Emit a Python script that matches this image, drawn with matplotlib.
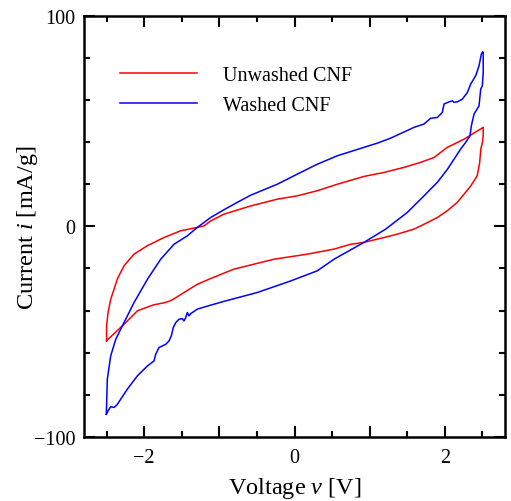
import matplotlib
matplotlib.use("Agg")
import matplotlib.pyplot as plt
from matplotlib.ticker import MultipleLocator, FuncFormatter

plt.rcParams['font.family'] = ['Liberation Serif', 'DejaVu Serif']
plt.rcParams['mathtext.fontset'] = 'custom'
plt.rcParams['mathtext.rm'] = 'Liberation Serif'
plt.rcParams['mathtext.it'] = 'Liberation Serif:italic'

# Unwashed CNF: forward (anodic) scan then reverse scan
unwashed_fwd_v = [-2.50, -2.50, -2.48, -2.445, -2.40, -2.357, -2.268, -2.135, -1.958, -1.736,
                  -1.514, -1.293, -1.204, -1.115, -0.938, -0.583, -0.229, 0.037, 0.303, 0.569,
                  0.924, 1.19, 1.457, 1.679, 1.856, 2.032, 2.255, 2.51]
unwashed_fwd_i = [-54.3, -47.3, -40.9, -34.6, -29.8, -25.0, -18.7, -13.2, -9.2, -5.3,
                  -2.1, -0.5, 0.2, 2.6, 5.8, 9.7, 12.9, 14.5, 16.9, 20.0,
                  23.7, 25.6, 28.0, 30.4, 32.7, 37.5, 41.4, 47.0]
unwashed_rev_v = [2.51, 2.51, 2.50, 2.478, 2.463, 2.43, 2.344, 2.255, 2.165, 2.032,
                  1.90, 1.723, 1.59, 1.367, 1.19, 0.924,
                  0.748, 0.525, 0.17, -0.273, -0.805, -0.938, -1.137, -1.293, -1.47, -1.603,
                  -1.656, -1.736, -1.878, -2.09, -2.277, -2.50]
unwashed_rev_i = [47.0, 43.0, 40.0, 36.7, 30.4, 24.0, 19.2, 15.3, 11.4, 7.4,
                  4.2, 1.0, -1.3, -3.7, -5.3, -7.6,
                  -8.5, -10.8, -13.2, -15.6, -20.3, -22.2, -25.1, -27.5, -31.4, -34.4,
                  -35.4, -36.3, -37.3, -40.1, -46.8, -54.3]

# Washed CNF
washed_fwd_v = [-2.503, -2.49, -2.445, -2.378, -2.268, -2.135, -1.958, -1.78, -1.603, -1.426,
                -1.293, -1.115, -0.938, -0.761, -0.583, -0.229, 0.037, 0.303, 0.569, 0.924,
                1.101, 1.28, 1.59, 1.723, 1.81, 1.90, 1.966, 1.989, 2.055, 2.10,
                2.12, 2.166, 2.232, 2.30, 2.344, 2.41, 2.454, 2.485, 2.503]
washed_fwd_i = [-89.2, -72.6, -61.5, -53.6, -45.7, -36.2, -25.2, -15.6, -8.5, -4.5,
                -0.5, 4.2, 7.9, 11.4, 14.8, 20.0, 24.8, 29.5, 33.5, 37.5,
                39.5, 41.9, 47.0, 48.6, 51.3, 51.7, 54.1, 58.1, 59.1, 59.6,
                58.9, 59.1, 60.4, 63.6, 67.6, 71.5, 76.2, 81.8, 82.9]
washed_rev_v = [2.51, 2.51, 2.498, 2.477, 2.454, 2.388, 2.352, 2.334, 2.277, 2.21,
                2.032, 1.90, 1.81, 1.723, 1.50, 1.213, 0.924, 0.525, 0.303, -0.05,
                -0.495, -0.938, -1.115, -1.293, -1.38, -1.403, -1.426, -1.447, -1.47, -1.492,
                -1.536, -1.58, -1.612, -1.639, -1.669, -1.713, -1.802, -1.846, -1.869, -1.958,
                -2.091, -2.224, -2.357, -2.40, -2.445, -2.48, -2.503]
washed_rev_i = [82.6, 73.1, 66.7, 65.2, 57.2, 53.3, 47.7, 43.0, 39.9, 36.7,
                27.0, 20.9, 17.7, 14.5, 6.6, -1.3, -7.6, -15.6, -21.1, -25.9,
                -31.4, -35.6, -37.4, -39.3, -41.4, -42.5, -40.9, -43.3, -44.9, -43.8,
                -44.1, -45.7, -48.0, -52.0, -54.4, -56.0, -57.5, -60.7, -63.9, -66.3,
                -71.0, -77.3, -84.5, -86.0, -85.6, -87.6, -89.2]

labels = ["Unwashed CNF", "Washed CNF"]
x_ticklabels = {-2: "\u22122", 0: "0", 2: "2"}

fig = plt.figure(figsize=(5.11, 5.02), dpi=100)
ax = fig.add_axes([0.1644, 0.1275, 0.8239, 0.8392])

ax.plot(unwashed_fwd_v + unwashed_rev_v, unwashed_fwd_i + unwashed_rev_i,
        color='#ff0000', lw=1.1, label=labels[0])
ax.plot(washed_fwd_v + washed_rev_v, washed_fwd_i + washed_rev_i,
        color='#0000ff', lw=1.1, label=labels[1])

ax.set_xlim(-2.8, 2.8)
ax.set_ylim(-100, 100)

ax.xaxis.set_major_locator(MultipleLocator(1))
ax.xaxis.set_minor_locator(MultipleLocator(0.5))
ax.xaxis.set_major_formatter(FuncFormatter(
    lambda v, p: x_ticklabels.get(int(round(v)), "") if abs(v - round(v)) < 1e-6 else ""))
ax.yaxis.set_major_locator(MultipleLocator(100))
ax.yaxis.set_minor_locator(MultipleLocator(20))
ax.yaxis.set_major_formatter(FuncFormatter(
    lambda v, p: ("\u2212%d" % abs(round(v))) if v < 0 else "%d" % round(v)))

ax.tick_params(which='both', direction='in', top=True, right=True, width=1.5,
               labelsize=14.5)
ax.tick_params(axis='x', which='both', pad=8)
ax.tick_params(axis='y', which='both', pad=6)
ax.tick_params(which='major', length=8)
ax.tick_params(which='minor', length=4.5)
for s in ax.spines.values():
    s.set_linewidth(1.8)

ax.set_xlabel("Voltage $v$ [V]", fontsize=17.5, labelpad=6)
ax.set_ylabel("Current $i$ [mA/g]", fontsize=17.5)
ax.yaxis.set_label_coords(-0.104, 0.5)

ax.legend(loc='upper left', bbox_to_anchor=(0.043, 0.924), frameon=False,
          fontsize=14.5, handlelength=3.8, handletextpad=1.3, labelspacing=0.55)

fig.savefig("out.png", dpi=100)
